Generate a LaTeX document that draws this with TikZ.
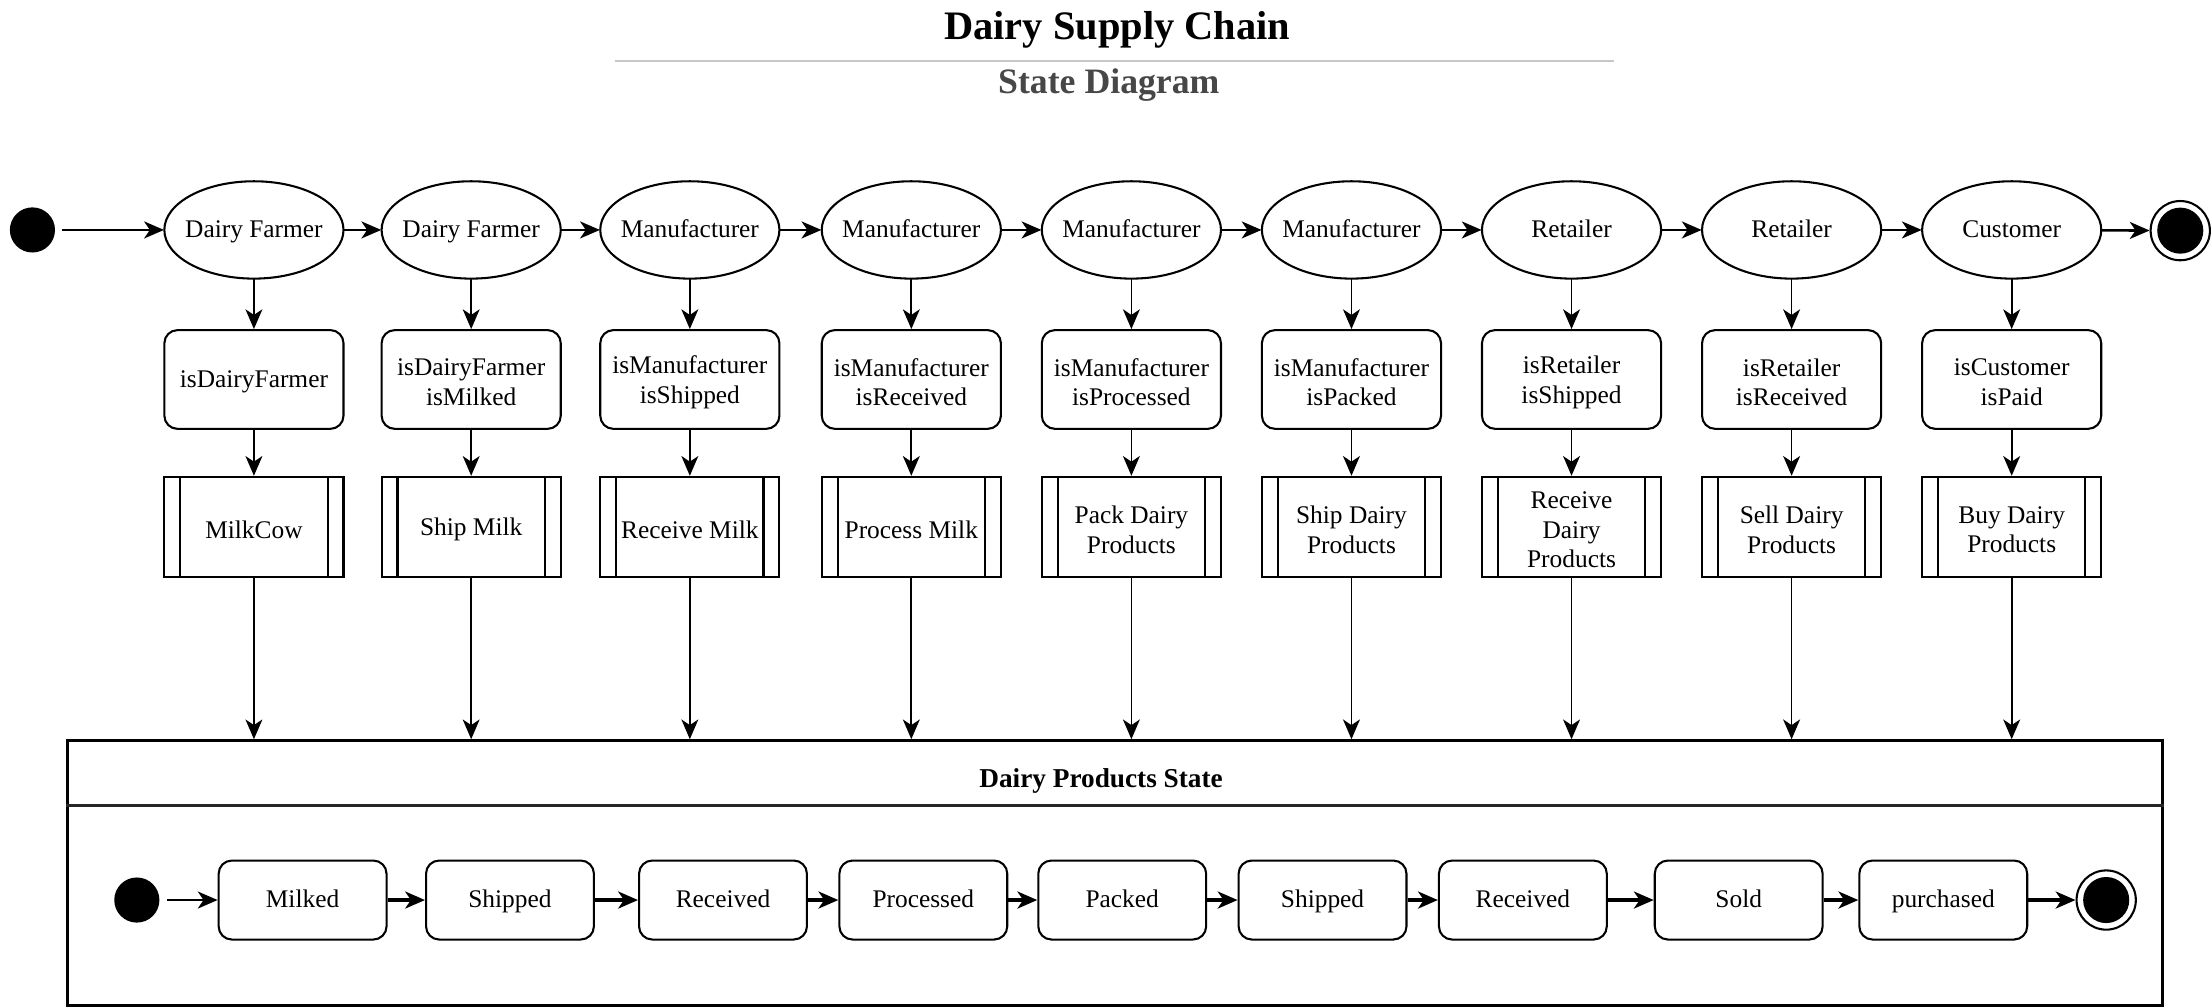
\documentclass[tikz,border=0pt]{standalone}
\usepackage{fontspec}
\setmainfont{Liberation Serif}
\usetikzlibrary{shapes.geometric,arrows.meta}
\begin{document}
\begin{tikzpicture}[x=0.75pt,y=-0.75pt,
  every node/.style={font=\fontsize{13.5}{15.8}\selectfont},
  oneline/.style={text height=10pt,text depth=2.4pt},
  actor/.style={rectangle,oneline,minimum width=95.25pt,minimum height=51.75pt,inner sep=0pt},
  actorring/.style={line width=1.1pt},
  guard/.style={rectangle,rounded corners=7pt,draw,line width=1.1pt,minimum width=95.25pt,minimum height=52.5pt,inner sep=0pt},
  proc/.style={rectangle,draw,line width=1.1pt,minimum width=95.25pt,minimum height=53.25pt,inner sep=0pt},
  boxtext/.style={align=center,inner sep=0pt,yshift=-1.5pt},
  sbox/.style={rectangle,oneline,rounded corners=7pt,draw,line width=1.1pt,minimum width=89.25pt,minimum height=42pt,inner sep=1pt},
  startdot/.style={circle,fill=black,minimum size=24pt,inner sep=0pt},
  endring/.style={circle,draw,line width=1.1pt,minimum size=31.5pt,inner sep=0pt},
  enddot/.style={circle,fill=black,minimum size=24.5pt,inner sep=0pt},
  tip/.style={-{Stealth[length=10.5pt,width=9pt,inset=3pt]}},
  harrow/.style={tip,line width=1.4pt},
  varrow/.style={tip,line width=0.9pt},
  barrow/.style={tip,line width=2pt},
  proclines/.style={line width=1.1pt}
]
\useasboundingbox (0,0) rectangle (1568,714.5);

% title
\node[font=\fontsize{21.5}{24}\selectfont\bfseries] (title) at (792,21) {Dairy Supply Chain};
\coordinate (tl) at (436,43);
\coordinate (tr) at (1144,43);
\draw[black!22,line width=1.1pt] (tl) -- (tr);
\node[font=\fontsize{19}{22}\selectfont\bfseries,text=black!72] (subtitle) at (786,60) {State Diagram};

% top row
\node[startdot] (s0) at (23,163) {};
\node[endring] (f0) at (1545.5,163.5) {};
\node[enddot] (f0in) at (1545.5,163.5) {};

\foreach \i/\x/\a/\g/\p in {
  1/180/Dairy Farmer/isDairyFarmer/MilkCow,
  2/334/Dairy Farmer/isDairyFarmer\\isMilked/Ship Milk,
  3/489/Manufacturer/isManufacturer\\isShipped/Receive Milk,
  4/646/Manufacturer/isManufacturer\\isReceived/Process Milk,
  5/802/Manufacturer/isManufacturer\\isProcessed/Pack Dairy\\Products,
  6/958/Manufacturer/isManufacturer\\isPacked/Ship Dairy\\Products,
  7/1114/Retailer/isRetailer\\isShipped/Receive\\Dairy\\Products,
  8/1270/Retailer/isRetailer\\isReceived/Sell Dairy\\Products,
  9/1426/Customer/isCustomer\\isPaid/Buy Dairy\\Products}{
  \node[actor] (e\i) at (\x,163) {\a};
  \draw[actorring] (e\i.center) ellipse [x radius=47.625pt,y radius=25.875pt];
  \node[guard] (g\i) at (\x,269) {};
  \node[boxtext] (gt\i) at (g\i.center) {\g};
  \node[proc] (p\i) at (\x,373.5) {};
  \node[boxtext] (pt\i) at (p\i.center) {\p};
  \draw[proclines] ([xshift=9pt]p\i.north west) -- ([xshift=9pt]p\i.south west);
  \draw[proclines] ([xshift=-9pt]p\i.north east) -- ([xshift=-9pt]p\i.south east);
  \draw[varrow] (e\i) -- (g\i);
  \draw[varrow] (g\i) -- (p\i);
}

\draw[harrow,shorten <=3.75pt] (s0) -- (e1);
\foreach \i/\j in {1/2,2/3,3/4,4/5,5/6,6/7,7/8,8/9}{
  \draw[harrow] (e\i) -- (e\j);
}
\draw[harrow] (e9) -- (f0);

% container
\node[rectangle,draw,line width=1.5pt,minimum width=1113.75pt,minimum height=141pt,inner sep=0pt] (cont) at (790.5,619) {};
\draw[line width=1.5pt,black!85] ([yshift=-35.25pt]cont.north west) -- ([yshift=-35.25pt]cont.north east);
\node[font=\fontsize{14.5}{17}\selectfont\bfseries,oneline] (conttitle) at (780.5,553) {Dairy Products State};

\foreach \i in {1,...,9}{
  \draw[varrow] (p\i.south) -- (p\i.south |- cont.north);
}

% bottom row
\node[startdot] (s1) at (97,638) {};
\node[endring] (f1) at (1493,638) {};
\node[enddot] (f1in) at (1493,638) {};
\foreach \i/\x/\t in {1/214.5/Milked,2/361.5/Shipped,3/512.5/Received,4/654.5/Processed,5/795.5/Packed,6/937.5/Shipped,7/1079.5/Received,8/1232.5/Sold,9/1377.5/purchased}{
  \node[sbox] (b\i) at (\x,638) {\t};
}
\draw[tip,line width=1.3pt,shorten <=4pt] (s1) -- (b1);
\foreach \i/\j in {1/2,2/3,3/4,4/5,5/6,6/7,7/8,8/9}{
  \draw[barrow] (b\i) -- (b\j);
}
\draw[barrow] (b9) -- (f1);
\end{tikzpicture}
\end{document}
